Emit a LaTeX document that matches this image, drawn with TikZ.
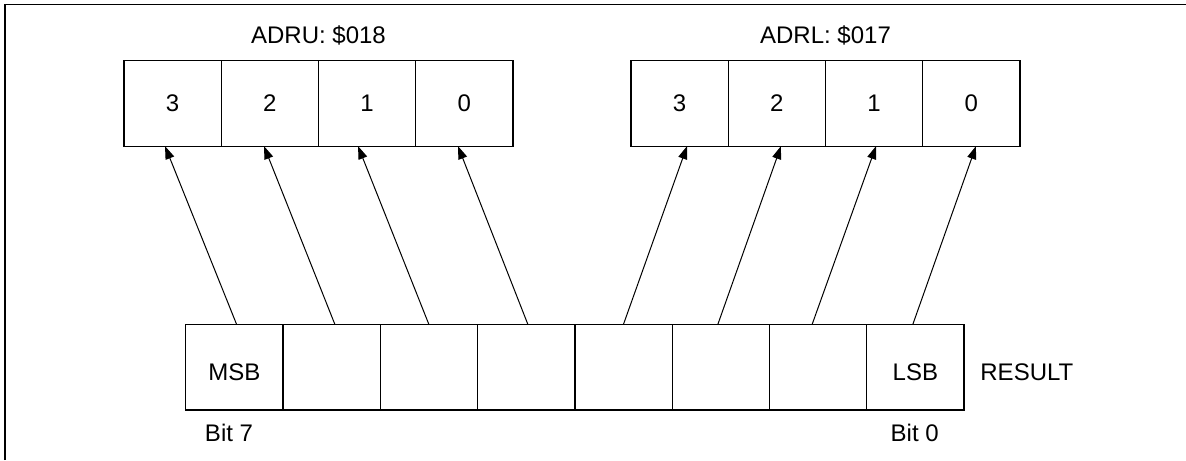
\documentclass[tikz,border=0pt]{standalone}
\usepackage{fontspec}
\setmainfont{Liberation Sans}
\usetikzlibrary{arrows.meta}
\begin{document}
\begin{tikzpicture}[x=0.5pt,y=-0.5pt,
  txt/.style={font=\fontsize{12}{14}\selectfont},
  cell/.style={draw, line width=0.6pt, minimum width=48.6pt, minimum height=42.6pt, inner sep=0pt, outer sep=0pt, txt},
  lbl/.style={inner sep=0pt, txt},
  arr/.style={-{Triangle[length=6.5pt,width=4.5pt]}, line width=0.5pt}]
\useasboundingbox (0,0) rectangle (1186,460);
\draw[line width=0.75pt] (5,460) -- (5,4.3) -- (1186,4.3);
% upper registers
\foreach \i/\d in {0/3,1/2,2/1,3/0}{
  \node[cell] (u\d) at ({124+97.25*(\i+0.5)},103.5) {\d};
  \node[cell] (l\d) at ({631+97.25*(\i+0.5)},103.5) {\d};
}
\node[lbl] (adru) at (318.5,35.5) {ADRU: \$018};
\node[lbl] (adrl) at (825.5,35.5) {ADRL: \$017};
% result register
\foreach \i/\b in {0/7,1/6,2/5,3/4,4/3,5/2,6/1,7/0}{
  \node[cell] (r\b) at ({185.7+97.29*(\i+0.5)},367.35) {};
}
\node[lbl] (msb) at ([yshift=-2.3pt]r7.center) {MSB};
\node[lbl] (lsb) at ([yshift=-2.3pt]r0.center) {LSB};
\node[lbl] (bit7) at (229,433) {Bit 7};
\node[lbl] (bit0) at (914.7,433) {Bit 0};
\node[lbl, anchor=west] (res) at (980,372.7) {RESULT};
% arrows
\draw[arr] ([xshift=1.2pt]r7.north) -- ([xshift=-3.8pt]u3.south);
\draw[arr] ([xshift=1.7pt]r6.north) -- ([xshift=-2.95pt]u2.south);
\draw[arr] ([xshift=0.05pt]r5.north) -- ([xshift=-4.55pt]u1.south);
\draw[arr] ([xshift=0.9pt]r4.north) -- ([xshift=-3.2pt]u0.south);
\draw[arr] ([xshift=-0.1pt]r3.north) -- ([xshift=3.7pt]l3.south);
\draw[arr] ([xshift=-1.55pt]r2.north) -- ([xshift=2.05pt]l2.south);
\draw[arr] ([xshift=-3.05pt]r1.north) -- ([xshift=0.95pt]l1.south);
\draw[arr] ([xshift=-1.35pt]r0.north) -- ([xshift=2.3pt]l0.south);
\end{tikzpicture}
\end{document}
